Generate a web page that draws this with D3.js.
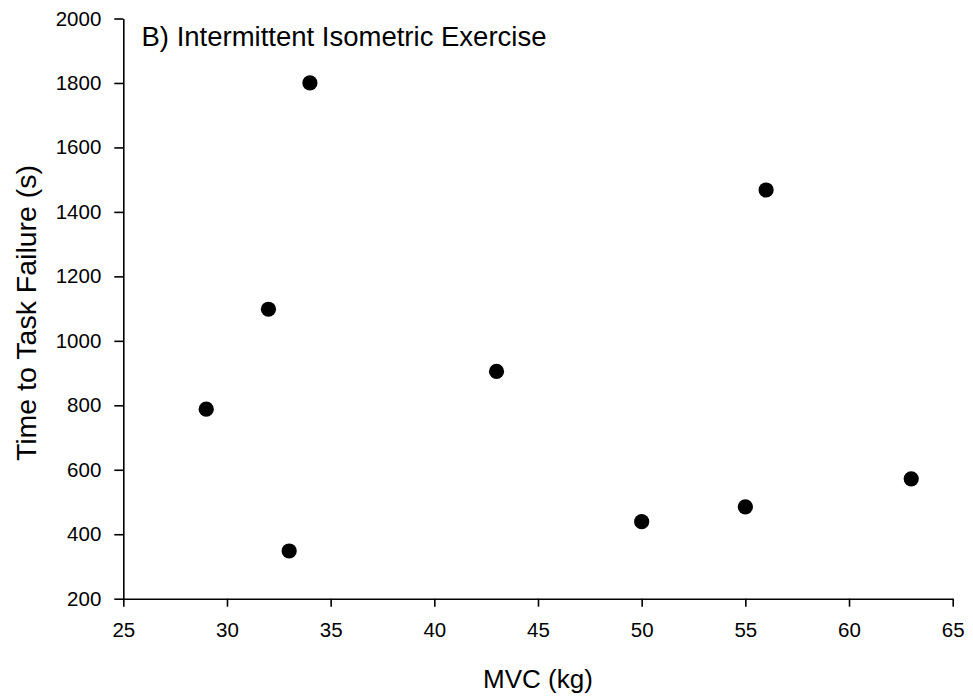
<!DOCTYPE html>
<html>
<head>
<meta charset="utf-8">
<script src="https://cdn.jsdelivr.net/npm/d3@7"></script>
<style>
  html, body { margin: 0; padding: 0; background: #fff; }
  svg { display: block; }
  text { font-family: "Liberation Sans", Arial, Helvetica, sans-serif; fill: #000; }
</style>
</head>
<body>
<svg id="chart" width="973" height="698"></svg>
<script>
// Data
const mvcKg = [29, 32, 33, 34, 43, 50, 55, 56, 63];
const timeToFailure = [788, 1098, 348, 1800, 905, 439, 485, 1468, 572];
const xTicks = [25, 30, 35, 40, 45, 50, 55, 60, 65];
const yTicks = [200, 400, 600, 800, 1000, 1200, 1400, 1600, 1800, 2000];
const titleText = "B) Intermittent Isometric Exercise";
const xLabel = "MVC (kg)";
const yLabel = "Time to Task Failure (s)";

const svg = d3.select("#chart");
const m = { left: 123.3, right: 952.7, top: 18.5, bottom: 598.7 };

const x = d3.scaleLinear().domain([25, 65]).range([m.left, m.right]);
const y = d3.scaleLinear().domain([200, 2000]).range([m.bottom, m.top]);

const xAxis = svg.append("g")
  .attr("transform", `translate(0,${m.bottom})`)
  .call(d3.axisBottom(x).tickValues(xTicks).tickSize(8).tickSizeOuter(0).tickPadding(16).tickFormat(d3.format("d")));
const yAxis = svg.append("g")
  .attr("transform", `translate(${m.left},0)`)
  .call(d3.axisLeft(y).tickValues(yTicks).tickSize(9).tickSizeOuter(0).tickPadding(13).tickFormat(d3.format("d")));

[xAxis, yAxis].forEach(g => {
  g.selectAll("path.domain").attr("stroke", "#000").attr("stroke-width", 1.6);
  g.selectAll(".tick line").attr("stroke", "#000").attr("stroke-width", 1.6);
  g.selectAll(".tick text").attr("font-size", 20.5).attr("fill", "#000")
    .attr("font-family", "'Liberation Sans', Arial, sans-serif");
});

svg.append("g").selectAll("circle")
  .data(mvcKg.map((v, i) => [v, timeToFailure[i]]))
  .join("circle")
  .attr("cx", d => x(d[0]))
  .attr("cy", d => y(d[1]))
  .attr("r", 7.6)
  .attr("fill", "#000");

svg.append("text")
  .attr("x", 141.5).attr("y", 46)
  .attr("font-size", 27.5)
  .text(titleText);

svg.append("text")
  .attr("x", (m.left + m.right) / 2).attr("y", 688)
  .attr("text-anchor", "middle")
  .attr("font-size", 26)
  .text(xLabel);

svg.append("text")
  .attr("transform", `translate(36,313) rotate(-90)`)
  .attr("text-anchor", "middle")
  .attr("font-size", 28.5)
  .text(yLabel);
</script>
</body>
</html>
